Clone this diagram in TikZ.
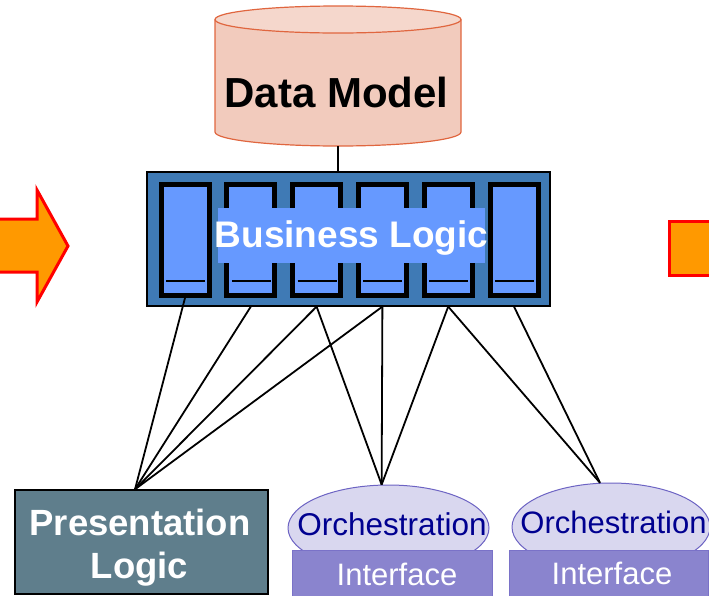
\documentclass[tikz,border=0pt]{standalone}
\usepackage{fontspec}
\setmainfont{Liberation Sans}
\usetikzlibrary{shapes.geometric}

\definecolor{bizblue}{RGB}{63,122,181}
\definecolor{colfill}{RGB}{102,153,255}
\definecolor{presfill}{RGB}{95,126,140}
\definecolor{orchfill}{RGB}{217,215,239}
\definecolor{orchdraw}{RGB}{108,99,195}
\definecolor{ifacefill}{RGB}{138,132,206}
\definecolor{ifacedraw}{RGB}{122,114,200}
\definecolor{navytext}{RGB}{0,0,144}
\definecolor{dmfill}{RGB}{242,203,189}
\definecolor{dmtop}{RGB}{245,215,204}
\definecolor{dmdraw}{RGB}{224,102,63}
\definecolor{arrowfill}{RGB}{255,153,0}
\definecolor{arrowdraw}{RGB}{255,0,0}

\begin{document}
\begin{tikzpicture}[x=1pt,y=-1pt,
  colbox/.style={rectangle, draw=black, line width=5pt, fill=colfill,
    minimum width=48pt, minimum height=111pt, inner sep=0pt},
  wire/.style={draw=black, line width=1.8pt},
  orch/.style={ellipse, draw=orchdraw, fill=orchfill, line width=1pt, inner sep=0pt},
  iface/.style={rectangle, draw=ifacedraw, fill=ifacefill, line width=1pt, inner sep=0pt},
  lbl/.style={anchor=base, inner sep=0pt},
  bigarrow/.style={fill=arrowfill, draw=arrowdraw, line width=3pt, line join=miter}]
\useasboundingbox (0,0) rectangle (709,595);
\clip (0,0) rectangle (709,595);

% incoming arrow on the left, and the next one starting on the right
\path[bigarrow] (-10,219) -- (37,219) -- (37,190) -- (68,246) -- (37,302)
  -- (37,272) -- (-10,272) -- cycle;
\path[bigarrow] (669,221) rectangle (730,275);

% data model store
\fill[dmfill] (215,19.5) -- (215,132) arc[start angle=180, end angle=0, x radius=123, y radius=14]
  -- (461,19.5) arc[start angle=0, end angle=180, x radius=123, y radius=13.5] -- cycle;
\draw[dmdraw, line width=1.2pt] (215,19.5) -- (215,132)
  arc[start angle=180, end angle=0, x radius=123, y radius=14] -- (461,19.5);
\filldraw[fill=dmtop, draw=dmdraw, line width=1.2pt] (338,19.5) ellipse[x radius=123, y radius=13.5];
\node[lbl, font=\bfseries\fontsize{42}{49}\selectfont] (dmtext) at (336.5,107) {Data Model};
\coordinate (dmbot) at (338,146);

% business logic tier
\node[rectangle, draw=black, line width=1.2pt, fill=bizblue,
  minimum width=403pt, minimum height=134pt, inner sep=0pt] (biz) at (348.5,239) {};
\foreach \i in {1,...,6} {
  \node[colbox] (c\i) at ({185+65.8*(\i-1)},240) {};
  \draw[black, line width=2pt] ([xshift=-19pt,yshift=-41pt]c\i.center) -- ([xshift=20pt,yshift=-41pt]c\i.center);
}
\node[rectangle, fill=colfill, minimum width=267pt, minimum height=55pt, inner sep=0pt] (blbg) at (351.5,235.5) {};
\node[lbl, text=white, font=\bfseries\fontsize{37}{44}\selectfont] (bltext) at (351.5,247) {Business Logic};

% presentation logic
\node[rectangle, draw=black, line width=1.5pt, fill=presfill,
  minimum width=253pt, minimum height=104pt, inner sep=0pt] (pres) at (141.5,542) {};
\node[lbl, text=white, font=\bfseries\fontsize{36.5}{43}\selectfont] (prestext1) at (140,535) {Presentation};
\node[lbl, text=white, font=\bfseries\fontsize{36.5}{43}\selectfont] (prestext2) at (139.5,578) {Logic};

% orchestration services with their interfaces
\node[orch, minimum width=201pt, minimum height=86pt] (o1) at (388.5,528) {};
\node[iface, minimum width=200pt, minimum height=50pt] (if1) at (392,575) {};
\node[lbl, text=navytext, font=\fontsize{31.5}{38}\selectfont] (o1text) at (392,535) {Orchestration};
\node[lbl, text=white, font=\fontsize{31}{37}\selectfont] (if1text) at (397,585) {Interface};

\node[orch, minimum width=198pt, minimum height=88pt] (o2) at (611,527) {};
\node[iface, minimum width=199pt, minimum height=50pt] (if2) at (608.5,575) {};
\node[lbl, text=navytext, font=\fontsize{31}{37}\selectfont] (o2text) at (613.5,533) {Orchestration};
\node[lbl, text=white, font=\fontsize{31}{37}\selectfont] (if2text) at (612,584) {Interface};

% connectors
\draw[wire] (dmbot) -- (dmbot |- biz.north);
\draw[wire] (c1.south) -- (pres.97);
\draw[wire] (c2.south |- biz.south) -- (pres.97);
\draw[wire] (c3.south |- biz.south) -- (pres.97);
\draw[wire] (c4.south |- biz.south) -- (pres.97);
\draw[wire] (c3.south |- biz.south) -- (o1.99);
\draw[wire] (c4.south |- biz.south) -- (o1.99);
\draw[wire] (c5.south |- biz.south) -- (o1.99);
\draw[wire] (c5.south |- biz.south) -- (o2.104);
\draw[wire] (c6.south |- biz.south) -- (o2.104);
\end{tikzpicture}
\end{document}
